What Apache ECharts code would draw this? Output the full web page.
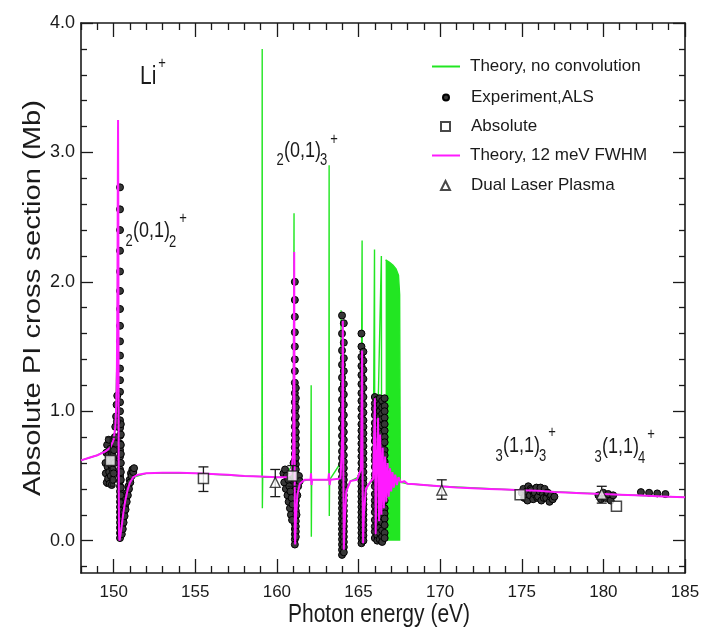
<!DOCTYPE html>
<html>
<head>
<meta charset="utf-8">
<script src="https://cdn.jsdelivr.net/npm/echarts@6/dist/echarts.min.js"></script>
<style>
html,body{margin:0;padding:0;background:#fff;}
#chart{width:704px;height:634px;}
</style>
</head>
<body>
<div id="chart"></div>
<script>
// ---- axis ticks ----
const xTicksMajor = [150, 155, 160, 165, 170, 175, 180, 185];
const xTicksMinor = [148, 149, 151, 152, 153, 154, 156, 157, 158, 159, 161, 162, 163, 164, 166, 167, 168, 169,
  171, 172, 173, 174, 176, 177, 178, 179, 181, 182, 183, 184];
const yTicksMajor = [0, 1, 2, 3, 4];
const yTicksMinor = [-0.2, 0.2, 0.4, 0.6, 0.8, 1.2, 1.4, 1.6, 1.8, 2.2, 2.4, 2.6, 2.8, 3.2, 3.4, 3.6, 3.8];

// ---- theory, convolved with 12 meV FWHM [eV, Mb] ----
const theoryConv = [
  [148.0,0.62],[148.5,0.64],[149.0,0.66],[149.5,0.69],[149.8,0.72],[150.0,0.78],[150.1,0.88],[150.16,1.05],
  [150.2,1.35],[150.23,1.9],[150.25,2.6],[150.27,3.25],[150.29,2.4],[150.3,1.2],[150.31,0.5],[150.33,0.05],
  [150.36,0.0],[150.4,0.03],[150.5,0.12],[150.6,0.22],[150.7,0.3],[150.85,0.39],[151.0,0.45],[151.2,0.49],
  [151.5,0.51],[152.0,0.52],[153.0,0.525],[154.0,0.525],[155.0,0.52],[156.0,0.515],[157.0,0.51],[158.0,0.5],
  [159.0,0.495],[160.0,0.49],[160.6,0.49],[160.9,0.52],[161.0,0.7],[161.03,1.3],[161.06,2.23],[161.08,1.0],
  [161.1,0.05],[161.12,-0.03],[161.16,0.15],[161.25,0.35],[161.4,0.44],[161.7,0.47],[162.06,0.47],[162.09,0.52],
  [162.12,0.43],[162.16,0.47],[163.15,0.47],[163.19,0.52],[163.23,0.43],[163.28,0.47],[163.9,0.48],[164.0,0.8],
  [164.04,1.7],[164.07,0.6],[164.1,-0.07],[164.14,0.1],[164.25,0.38],[164.5,0.46],[164.9,0.47],[165.15,0.55],
  [165.22,1.47],[165.25,0.5],[165.28,-0.02],[165.33,0.2],[165.45,0.4],[165.7,0.45],[165.9,0.48],[166.0,1.1],
  [166.05,0.05],[166.12,0.6],[166.2,0.95],[166.26,0.15],[166.33,0.82],[166.4,0.2],[166.48,0.72],[166.55,0.25],
  [166.63,0.65],[166.7,0.3],[166.78,0.6],[166.85,0.34],[166.93,0.56],[167.0,0.38],[167.08,0.53],[167.16,0.41],
  [167.25,0.51],[167.35,0.43],[167.45,0.49],[167.6,0.45],[167.8,0.46],[168.0,0.44],[168.5,0.435],[169.0,0.43],
  [170.0,0.42],[171.0,0.41],[172.0,0.405],[173.0,0.4],[174.0,0.395],[175.0,0.39],[176.0,0.385],[177.0,0.375],
  [178.0,0.37],[179.0,0.365],[180.0,0.36],[181.0,0.355],[182.0,0.35],[183.0,0.345],[184.0,0.34],[185.0,0.335]
];

// ---- theory, no convolution [eV, Mb] ----
const theoryRaw = [
  [148.0,0.62],[149.0,0.66],[149.8,0.72],[150.1,0.85],[150.24,1.6],[150.26,3.2],[150.28,0.0],[150.32,0.05],
  [150.5,0.15],[150.8,0.37],[151.2,0.49],[152.0,0.52],[155.0,0.52],[158.0,0.5],[159.08,0.495],[159.1,3.8],
  [159.11,0.25],[159.13,0.49],[160.5,0.49],[161.0,0.6],[161.05,2.53],[161.06,-0.03],[161.1,0.35],[161.4,0.46],
  [162.08,0.47],[162.1,1.2],[162.11,0.03],[162.13,0.47],[163.18,0.47],[163.2,2.9],[163.21,0.19],[163.23,0.47],
  [163.9,0.6],[163.93,1.78],[163.95,-0.1],[164.1,0.35],[164.5,0.46],[165.15,0.5],[165.22,2.32],[165.24,0.0],
  [165.4,0.4],[165.9,0.47],[165.98,2.25],[166.0,0.0],[166.1,0.45],[166.4,2.2],[166.42,0.0],[166.5,0.45],
  [166.62,0.45],[167.6,0.45],[168.0,0.44],[170.0,0.42],[175.0,0.39],[180.0,0.36],[185.0,0.335]
];
// densely spaced narrow resonances below the series limit
const theoryRawBand = [
  [166.66,2.17],[166.9,2.15],[167.1,2.13],[167.3,2.1],[167.45,2.05],[167.52,1.9],[167.56,0.46]
];

// ---- experiment (ALS), grouped by scans: [eV, [Mb ...]] ----
const expCols = [
  [150.39,[2.73,2.56,2.4,2.24,2.08,1.93,1.79,1.66,1.54,1.43,1.33,1.24,1.15,1.07,1.0,0.93,0.87,0.81,0.75,0.7,
           0.65,0.6,0.55,0.5,0.46,0.42,0.38,0.34,0.3,0.26,0.22,0.18,0.14,0.1,0.06,0.02]],
  [150.44,[0.9,0.82,0.74,0.67,0.6,0.53,0.47,0.41,0.35,0.29,0.23,0.17,0.11,0.05]],
  [161.1,[2.0,1.86,1.73,1.61,1.5,1.4,1.31,1.22,1.14,1.07,1.0,0.94,0.88,0.82,0.77,0.72,0.67,0.62,0.57,0.53,
          0.49,0.45,0.41,0.37,0.33,0.29,0.25,0.21,0.17,0.13,0.09,0.05,0.01,-0.03]],
  [161.16,[1.18,1.1,1.03,0.96,0.9,0.84,0.79,0.74,0.69,0.64,0.59,0.55,0.51,0.47,0.43,0.39,0.35,0.31,0.27,0.23,
           0.19,0.15,0.11,0.07,0.03]],
  [163.99,[1.74,1.6,1.47,1.36,1.26,1.17,1.09,1.01,0.94,0.87,0.81,0.75,0.69,0.64,0.59,0.54,0.49,0.45,0.41,0.37,
           0.33,0.29,0.25,0.21,0.17,0.13,0.09,0.05,0.01,-0.03,-0.07,-0.11]],
  [164.1,[1.68,1.53,1.41,1.31,1.21,1.13,1.05,0.97,0.9,0.84,0.78,0.72,0.66,0.61,0.56,0.51,0.47,0.43,0.39,0.35,
          0.31,0.27,0.23,0.19,0.15,0.11,0.07,0.03,-0.01,-0.05,-0.09]],
  [165.18,[1.6,1.5,1.42,1.35,1.28,1.21,1.14,1.08,1.02,0.96,0.9,0.85,0.8,0.75,0.7,0.65,0.6,0.55,0.5,0.46,
           0.42,0.38,0.34,0.3,0.26,0.22,0.18,0.14,0.1,0.06,0.02,-0.02]],
  [165.3,[1.46,1.39,1.32,1.25,1.18,1.11,1.05,0.99,0.93,0.88,0.83,0.78,0.73,0.68,0.63,0.58,0.53,0.48,0.44,0.4,
          0.36,0.32,0.28,0.24,0.2,0.16,0.12,0.08,0.04,0.0]],
  [166.0,[1.11,1.06,1.02,0.97,0.91,0.86,0.82,0.77,0.71,0.66,0.62,0.57,0.51,0.47,0.42,0.36,0.31,0.27,0.22,0.16,
          0.11,0.07,0.02]],
  [166.15,[1.09,1.04,0.99,0.93,0.88,0.84,0.79,0.73,0.68,0.64,0.59,0.53,0.49,0.44,0.38,0.33,0.29,0.24,0.18,0.13,
           0.09,0.04,0.0]],
  [166.3,[1.1,1.05,1.0,0.96,0.9,0.85,0.81,0.75,0.7,0.65,0.6,0.56,0.5,0.46,0.4,0.35,0.3,0.26,0.2,0.15,
          0.1,0.06,0.01]],
  [166.45,[1.08,1.03,0.98,0.94,0.89,0.83,0.78,0.74,0.69,0.63,0.58,0.54,0.48,0.43,0.39,0.34,0.28,0.23,0.19,0.14,
           0.08,0.03,-0.01]],
  [166.6,[1.1,1.04,1.0,0.95,0.9,0.85,0.8,0.76,0.7,0.66,0.61,0.55,0.5,0.45,0.41,0.36,0.31,0.25,0.21,0.17,
          0.12,0.06,0.02]]
];
const expPts = [
  [149.5,0.6],[149.52,0.52],[149.55,0.68],[149.58,0.45],[149.6,0.74],[149.63,0.57],[149.66,0.48],[149.68,0.66],
  [149.7,0.78],[149.73,0.53],[149.76,0.44],[149.78,0.62],[149.8,0.71],[149.83,0.5],[149.86,0.58],[149.88,0.43],
  [149.9,0.67],[149.93,0.55],[149.95,0.47],[149.98,0.63],[150.0,0.52],[150.02,0.7],[150.05,0.6],[150.07,0.8],
  [150.1,0.88],[150.12,0.75],[150.15,0.96],[150.18,1.05],[150.2,0.92],[150.22,1.12],
  [150.48,0.08],[150.5,0.05],[150.53,0.12],[150.56,0.09],[150.58,0.17],[150.61,0.14],[150.64,0.22],[150.67,0.19],
  [150.7,0.27],[150.73,0.24],[150.76,0.32],[150.8,0.3],[150.83,0.37],[150.87,0.35],[150.9,0.42],[150.94,0.4],
  [150.98,0.47],[151.02,0.45],[151.06,0.52],[151.1,0.5],[151.15,0.55],[151.2,0.53],[151.25,0.56],
  [160.4,0.52],[160.45,0.45],[160.5,0.55],[160.55,0.4],[160.6,0.5],[160.65,0.35],[160.7,0.47],[160.72,0.3],
  [160.76,0.42],[160.8,0.25],[160.83,0.38],[160.86,0.2],[160.9,0.33],[160.93,0.16],[160.96,0.28],[161.0,0.5],
  [161.02,0.6],[161.2,0.2],[161.25,0.35],[161.3,0.42],[161.35,0.5],[161.4,0.46],
  [175.0,0.37],[175.1,0.4],[175.15,0.33],[175.2,0.34],[175.3,0.38],[175.35,0.31],[175.4,0.42],[175.5,0.35],
  [175.55,0.4],[175.6,0.39],[175.7,0.32],[175.75,0.36],[175.8,0.37],[175.9,0.41],[175.95,0.33],[176.0,0.34],
  [176.1,0.38],[176.15,0.41],[176.2,0.31],[176.3,0.36],[176.35,0.33],[176.4,0.4],[176.5,0.33],[176.55,0.37],
  [176.6,0.37],[176.7,0.3],[176.75,0.34],[176.8,0.35],[176.9,0.32],[177.0,0.34],
  [179.7,0.35],[179.85,0.32],[180.0,0.37],[180.15,0.33],[180.3,0.36],[180.45,0.31],[180.6,0.35],
  [182.3,0.375],[182.8,0.37],[183.3,0.365],[183.8,0.36]
];

// ---- absolute measurements and dual laser plasma points ----
const absE  = [149.8, 155.5, 160.95, 174.9, 180.8];
const absV  = [0.62, 0.48, 0.5, 0.355, 0.265];
const absLo = [0.42, 0.38, 0.42, null, null];
const absHi = [0.8, 0.57, 0.58, null, null];
const dlpE  = [159.9, 170.1, 179.9];
const dlpV  = [0.45, 0.39, 0.36];
const dlpLo = [0.34, 0.32, 0.29];
const dlpHi = [0.55, 0.47, 0.42];

// ---- build series data ----
const expData = [];
expCols.forEach(([e, vs]) => vs.forEach(v => expData.push([e, v])));
expPts.forEach(p => expData.push(p));
const absData = absE.map((e, i) => [e, absV[i]]);
const dlpData = dlpE.map((e, i) => [e, dlpV[i]]);
const errData = [];
absE.forEach((e, i) => { if (absLo[i] !== null) errData.push([e, absLo[i], absHi[i]]); });
dlpE.forEach((e, i) => errData.push([e, dlpLo[i], dlpHi[i]]));

const FS = "'Liberation Sans',Arial,Helvetica,sans-serif";
const INK = '#1a1a1a';
const GREEN = '#22e622';
const MAGENTA = '#ff1aff';
const STRETCH = 1.27;   // tall lettering used throughout the figure

function xAx(pos, major, showLine) {
  return {
    type: 'value', min: 148, max: 185, position: pos, gridIndex: 0,
    axisLine: { show: showLine, onZero: false, lineStyle: { color: INK, width: 1.6 } },
    axisTick: { inside: true, length: major ? 14 : 7, customValues: major ? xTicksMajor : xTicksMinor,
                lineStyle: { color: INK, width: 1.3 } },
    axisLabel: { show: major && pos === 'bottom', customValues: xTicksMajor, margin: 11,
                 fontFamily: FS, fontSize: 17, color: INK },
    splitLine: { show: false }
  };
}
function yAx(pos, major, showLine) {
  return {
    type: 'value', min: -0.25, max: 4, position: pos, gridIndex: 0,
    axisLine: { show: showLine, onZero: false, lineStyle: { color: INK, width: 1.6 } },
    axisTick: { inside: true, length: major ? 12 : 6, customValues: major ? yTicksMajor : yTicksMinor,
                lineStyle: { color: INK, width: 1.3 } },
    axisLabel: { show: major && pos === 'left', customValues: yTicksMajor, margin: 6,
                 fontFamily: FS, fontSize: 18, color: INK, formatter: v => v.toFixed(1) },
    splitLine: { show: false }
  };
}

// one legend block per row so each key can have its own icon size
function legendRow(name, top, icon, w, h, left, pad) {
  return {
    data: [{ name: name, icon: icon }], left: left, top: top, orient: 'vertical', padding: 0,
    itemWidth: w, itemHeight: h, selectedMode: false, symbolKeepAspect: true,
    textStyle: { fontFamily: FS, fontSize: 17, color: INK, padding: [0, 0, 0, pad] }
  };
}
const SQUARE = 'path://M0,0 L10,0 L10,10 L0,10 Z';
const TRI = 'path://M5,0 L10,10 L0,10 Z';

// text pieces: [text, x, y, size, align]
function annot(parts) {
  return parts.map(([t, x, y, s, a]) => ({
    type: 'text', x: x, y: y, scaleY: STRETCH, z: 20, silent: true,
    style: { text: t, fontFamily: FS, fontSize: s, fill: INK,
             textAlign: a, textVerticalAlign: 'middle', align: a, verticalAlign: 'middle' }
  }));
}

const chart = echarts.init(document.getElementById('chart'), null, { renderer: 'canvas' });
chart.setOption({
  animation: false,
  backgroundColor: '#fff',
  grid: { left: 81, right: 19, top: 23, bottom: 61, containLabel: false },
  xAxis: [xAx('bottom', true, true), xAx('bottom', false, false), xAx('top', true, true), xAx('top', false, false)],
  yAxis: [yAx('left', true, true), yAx('left', false, false), yAx('right', true, true), yAx('right', false, false)],
  legend: [
    legendRow('Theory, no convolution', 58, 'rect', 28, 2, 432, 5),
    legendRow('Experiment,ALS', 89, 'circle', 6, 6, 442, 17),
    legendRow('Absolute', 118, SQUARE, 9, 9, 440, 16),
    legendRow('Theory, 12 meV FWHM', 147, 'rect', 28, 2, 432, 5),
    legendRow('Dual Laser Plasma', 177, TRI, 9, 9, 440, 16)
  ],
  graphic: [
    { type: 'text', x: 34, y: 298, rotation: Math.PI / 2, scaleX: STRETCH, z: 20, silent: true,
      style: { text: 'Absolute PI cross section (Mb)', fontFamily: FS, fontSize: 23, fill: INK,
               textAlign: 'center', textVerticalAlign: 'middle', align: 'center', verticalAlign: 'middle' } },
    { type: 'text', x: 379, y: 615, scaleY: STRETCH, z: 20, silent: true,
      style: { text: 'Photon energy (eV)', fontFamily: FS, fontSize: 21, fill: INK,
               textAlign: 'center', textVerticalAlign: 'middle', align: 'center', verticalAlign: 'middle' } }
  ].concat(
    annot([['Li', 140, 77, 21, 'left'], ['+', 162, 63, 13, 'center']]),
    annot([['2', 129, 241, 13, 'center'], ['(0,1)', 133, 231, 18, 'left'], ['2', 169, 242, 13, 'left'], ['+', 183, 218, 13, 'center']]),
    annot([['2', 280, 160, 13, 'center'], ['(0,1)', 284, 151, 18, 'left'], ['3', 320, 160, 13, 'left'], ['+', 334, 139, 13, 'center']]),
    annot([['3', 499, 456, 13, 'center'], ['(1,1)', 503, 446, 18, 'left'], ['3', 539, 456, 13, 'left'], ['+', 552, 432, 13, 'center']]),
    annot([['3', 598, 457, 13, 'center'], ['(1,1)', 602, 447, 18, 'left'], ['4', 638, 458, 13, 'left'], ['+', 651, 434, 13, 'center']])
  ),
  series: [
    { name: 'Theory, no convolution', type: 'line', data: theoryRaw, symbol: 'none', z: 2,
      lineStyle: { color: GREEN, width: 1.4 }, itemStyle: { color: GREEN } },
    { name: 'Theory, no convolution', type: 'line', data: theoryRawBand, symbol: 'none', z: 2,
      lineStyle: { color: GREEN, width: 1.4 }, itemStyle: { color: GREEN },
      areaStyle: { color: GREEN, opacity: 1, origin: 0 } },
    { name: 'Experiment,ALS', type: 'scatter', data: expData, symbol: 'circle', symbolSize: 7, z: 3,
      itemStyle: { color: '#383838', borderColor: '#000', borderWidth: 1, opacity: 1 } },
    { name: 'Theory, 12 meV FWHM', type: 'line', data: theoryConv, symbol: 'none', z: 4,
      lineStyle: { color: MAGENTA, width: 2 }, itemStyle: { color: MAGENTA } },
    { name: 'errbars', type: 'custom', data: errData, z: 5, silent: true,
      encode: { x: 0, y: [1, 2] },
      renderItem: (params, api) => {
        const hi = api.coord([api.value(0), api.value(2)]);
        const lo = api.coord([api.value(0), api.value(1)]);
        const w = 5, st = { stroke: INK, lineWidth: 1.3 };
        return { type: 'group', children: [
          { type: 'line', shape: { x1: hi[0], y1: hi[1], x2: lo[0], y2: lo[1] }, style: st },
          { type: 'line', shape: { x1: hi[0] - w, y1: hi[1], x2: hi[0] + w, y2: hi[1] }, style: st },
          { type: 'line', shape: { x1: lo[0] - w, y1: lo[1], x2: lo[0] + w, y2: lo[1] }, style: st }
        ] };
      } },
    { name: 'Absolute', type: 'scatter', data: absData, symbol: 'rect', symbolSize: 10, z: 6,
      itemStyle: { color: '#fff', borderColor: INK, borderWidth: 1.5 } },
    { name: 'Dual Laser Plasma', type: 'scatter', data: dlpData, symbol: 'triangle', symbolSize: 10, z: 6,
      itemStyle: { color: '#fff', borderColor: INK, borderWidth: 1.3 } }
  ]
});
</script>
</body>
</html>
